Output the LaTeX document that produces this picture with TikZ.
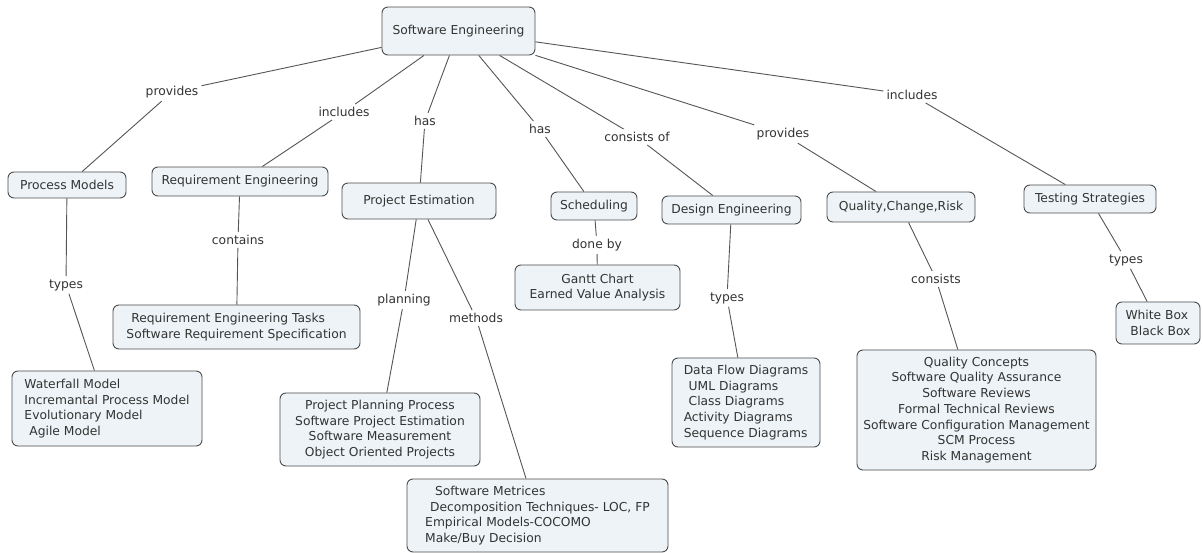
\documentclass[tikz,border=0pt]{standalone}
\usepackage{fontspec}
\setmainfont{DejaVu Sans}
\definecolor{cfill}{HTML}{EDF3F6}
\definecolor{cedge}{HTML}{4D4D4D}
\definecolor{ctext}{HTML}{333333}
\definecolor{cline}{HTML}{555555}
\usetikzlibrary{positioning}
\newcommand{\ind}{\hspace*{0.4em}}
\begin{document}
\begin{tikzpicture}[x=1pt, y=-1pt,
  concept/.style={draw=cedge, fill=cfill, rounded corners=6pt, line width=0.9pt,
                  text=ctext, font=\fontsize{12.3}{15.7}\selectfont,
                  inner sep=0pt, align=center},
  clist/.style={concept, align=left},
  lword/.style={text=ctext, font=\fontsize{12.3}{15.7}\selectfont, inner sep=3pt},
  link/.style={draw=cline, line width=0.9pt},
]
\useasboundingbox (0,0) rectangle (1203,553);
\fill[white] (0,0) rectangle (1203,553);

% top level
\node[concept, minimum width=153, minimum height=48] (se) at (458.5,31) {Software Engineering};
\node[concept, minimum width=118, minimum height=26] (pm) at (67,185) {Process Models};
\node[concept, minimum width=176, minimum height=29] (re) at (240,181.5) {Requirement Engineering};
\node[concept, minimum width=154, minimum height=36] (pe) at (419,201) {Project Estimation};
\node[concept, minimum width=86, minimum height=28] (sch) at (594,206) {Scheduling};
\node[concept, minimum width=139, minimum height=28] (de) at (731.5,210) {Design Engineering};
\node[concept, minimum width=148, minimum height=30] (qcr) at (901,207) {Quality,Change,Risk};
\node[concept, minimum width=132, minimum height=28] (ts) at (1090,199) {Testing Strategies};

% second level
\node[clist, minimum width=190, minimum height=75] (pml) at (107,408.5) {
  Waterfall Model\\Incremantal Process Model\\Evolutionary Model\\\ind Agile Model};
\node[clist, minimum width=247, minimum height=44] (rel) at (236.5,327) {
  \ind Requirement Engineering Tasks\\Software Requirement Specification};
\node[concept, minimum width=200, minimum height=73] (pel) at (380,429.5) {
  Project Planning Process\\Software Project Estimation\\Software Measurement\\Object Oriented Projects};
\node[clist, minimum width=261, minimum height=73] (mel) at (537.5,515.5) {
  \ind\ind Software Metrices\\\ind Decomposition Techniques- LOC, FP\\Empirical Models-COCOMO\\Make/Buy Decision};
\node[concept, minimum width=165, minimum height=45] (gan) at (597.5,287.5) {
  Gantt Chart\\Earned Value Analysis};
\node[clist, minimum width=148, minimum height=89] (dfl) at (746,402.5) {
  Data Flow Diagrams\\\ind UML Diagrams\\\ind Class Diagrams\\Activity Diagrams\\Sequence Diagrams};
\node[concept, minimum width=239, minimum height=120] (qul) at (976.5,410) {
  Quality Concepts\\Software Quality Assurance\\Software Reviews\\Formal Technical Reviews\\Software Configuration Management\\SCM Process\\Risk Management};
\node[clist, minimum width=84, minimum height=42] (wbb) at (1158,323) {
  White Box\\\ind Black Box};

% linking words
\node[lword] (l1) at (172,92) {provides};
\node[lword] (l2) at (344,112) {includes};
\node[lword] (l3) at (425,121) {has};
\node[lword] (l4) at (540,129) {has};
\node[lword] (l5) at (637,137) {consists of};
\node[lword] (l6) at (783,134) {provides};
\node[lword] (l7) at (912,95) {includes};
\node[lword] (l8) at (66,285) {types};
\node[lword] (l9) at (238,240) {contains};
\node[lword] (l10) at (404,300) {planning};
\node[lword] (l11) at (476,318) {methods};
\node[lword] (l12) at (597,245) {done by};
\node[lword] (l13) at (727,298) {types};
\node[lword] (l14) at (936,279) {consists};
\node[lword] (l15) at (1126,260) {types};

% connectors
\draw[link] (se) -- (l1) (l1) -- (pm);
\draw[link] (se) -- (l2) (l2) -- (re);
\draw[link] (se) -- (l3) (l3) -- (pe);
\draw[link] (se) -- (l4) (l4) -- (sch);
\draw[link] (se) -- (l5) (l5) -- (de);
\draw[link] (se) -- (l6) (l6) -- (qcr);
\draw[link] (se) -- (l7) (l7) -- (ts);
\draw[link] (pm) -- (l8) (l8) -- (pml);
\draw[link] (re) -- (l9) (l9) -- (rel);
\draw[link] (pe) -- (l10) (l10) -- (pel);
\draw[link] (pe) -- (l11) (l11) -- (mel);
\draw[link] (sch) -- (l12) (l12) -- (gan);
\draw[link] (de) -- (l13) (l13) -- (dfl);
\draw[link] (qcr) -- (l14) (l14) -- (qul);
\draw[link] (ts) -- (l15) (l15) -- (wbb);
\end{tikzpicture}
\end{document}
